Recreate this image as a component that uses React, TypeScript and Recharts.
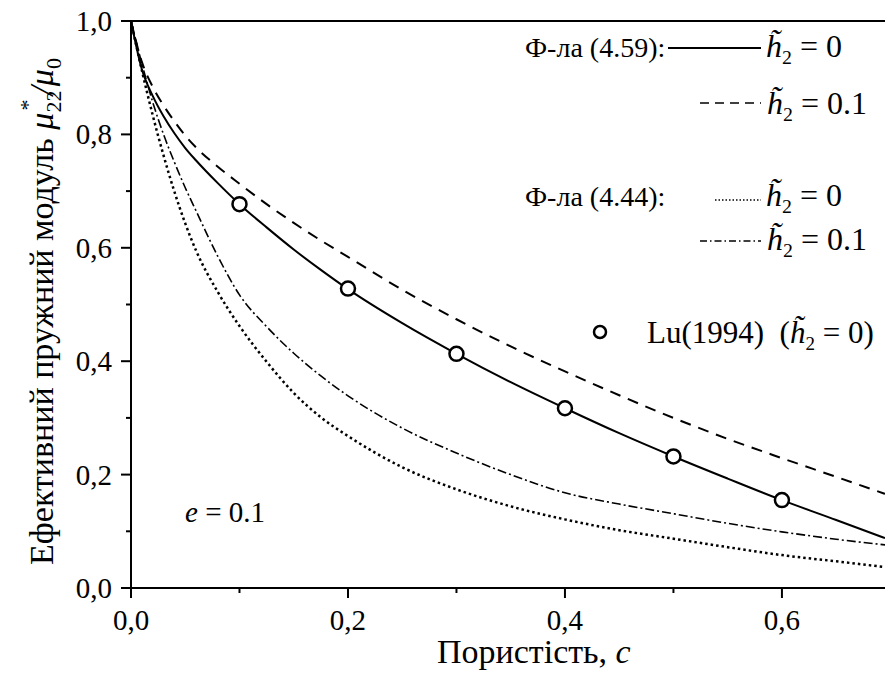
import React from 'react';
import { ComposedChart, Line, Scatter, XAxis, YAxis, ReferenceLine } from 'recharts';

// porosity grid c
const cGrid = [0, 0.01, 0.02, 0.03, 0.04, 0.05, 0.06, 0.08, 0.1, 0.125, 0.15, 0.175, 0.2, 0.25, 0.3, 0.35, 0.4, 0.45, 0.5, 0.55, 0.6, 0.65, 0.695];
// Ф-ла (4.59), h2 = 0 (solid)
const f459h0 = [1, 0.915, 0.868, 0.832, 0.802, 0.776, 0.754, 0.714, 0.677, 0.636, 0.597, 0.561, 0.527, 0.467, 0.413, 0.363, 0.317, 0.273, 0.232, 0.193, 0.155, 0.12, 0.088];
// Ф-ла (4.59), h2 = 0.1 (dashed)
const f459h01 = [1, 0.928, 0.884, 0.851, 0.823, 0.798, 0.777, 0.743, 0.713, 0.677, 0.644, 0.613, 0.584, 0.526, 0.474, 0.426, 0.382, 0.34, 0.3, 0.263, 0.229, 0.196, 0.166];
// Ф-ла (4.44), h2 = 0 (dotted)
const f444h0 = [1, 0.913, 0.834, 0.763, 0.699, 0.643, 0.595, 0.522, 0.462, 0.399, 0.344, 0.301, 0.268, 0.213, 0.174, 0.144, 0.121, 0.102, 0.087, 0.072, 0.058, 0.047, 0.037];
// Ф-ла (4.44), h2 = 0.1 (dash-dot)
const f444h01 = [1, 0.925, 0.857, 0.8, 0.751, 0.706, 0.665, 0.585, 0.517, 0.461, 0.414, 0.374, 0.339, 0.282, 0.238, 0.2, 0.168, 0.148, 0.131, 0.114, 0.099, 0.086, 0.076];
// Lu (1994) points
const luC = [0.1, 0.2, 0.3, 0.4, 0.5, 0.6];
const luV = [0.677, 0.528, 0.413, 0.317, 0.232, 0.155];

const xTicks = [0, 0.1, 0.2, 0.3, 0.4, 0.5, 0.6];
const yTicks = [0, 0.1, 0.2, 0.3, 0.4, 0.5, 0.6, 0.7, 0.8, 0.9, 1.0];

const rows = cGrid.map((c, i) => ({ c, a: f459h0[i], b: f459h01[i], d: f444h0[i], e: f444h01[i] }));
const luData = luC.map((c, i) => ({ c, v: luV[i] }));

const FONT = '"Liberation Serif", "Times New Roman", serif';
const fmt = (v: number) => v.toFixed(1).replace('.', ',');
const isMajor = (v: number) => Math.round(v * 10) % 2 === 0;

const XTick = (props: any) => {
  const { x, y, payload } = props;
  const v = payload.value as number;
  const major = isMajor(v);
  return (
    <g>
      <line x1={x} x2={x} y1={y} y2={y + (major ? 10 : 5)} stroke="#000" strokeWidth={2} />
      {major && (
        <text x={x} y={y + 42} textAnchor="middle" fontSize={29} fontFamily={FONT} fill="#000">{fmt(v)}</text>
      )}
    </g>
  );
};

const YTick = (props: any) => {
  const { x, y, payload } = props;
  const v = payload.value as number;
  const major = isMajor(v);
  return (
    <g>
      <line x1={x} x2={x - (major ? 10 : 5)} y1={y} y2={y} stroke="#000" strokeWidth={2} />
      {major && (
        <text x={x - 19} y={y + 10} textAnchor="end" fontSize={29} fontFamily={FONT} fill="#000">{fmt(v)}</text>
      )}
    </g>
  );
};

const HLabel = ({ x, y, rest, size = 32 }: { x: number; y: number; rest: string; size?: number }) => (
  <text x={x} y={y} fontSize={size} fontFamily={FONT} fill="#000">
    <tspan fontStyle="italic">{'h\u0303'}</tspan>
    <tspan dy={7} fontSize={size * 0.62}>2</tspan>
    <tspan dy={-7}>{rest}</tspan>
  </text>
);

export default function App() {
  return (
    <div style={{ position: 'absolute', left: 0, top: 0, width: 885, height: 682, overflow: 'hidden', background: '#fff' }}>
      <ComposedChart width={885} height={682} data={rows} margin={{ top: 21, right: 0, bottom: 0, left: 0 }}>
        <XAxis
          type="number"
          dataKey="c"
          domain={[0, 0.695]}
          ticks={xTicks}
          interval={0}
          height={94}
          tickSize={0}
          tickMargin={0}
          tickLine={false}
          axisLine={{ stroke: '#000', strokeWidth: 2 }}
          tick={(p: any) => <XTick {...p} />}
        />
        <YAxis
          type="number"
          domain={[0, 1]}
          ticks={yTicks}
          interval={0}
          width={131}
          tickSize={0}
          tickMargin={0}
          tickLine={false}
          axisLine={{ stroke: '#000', strokeWidth: 2 }}
          tick={(p: any) => <YTick {...p} />}
        />
        <ReferenceLine y={1} stroke="#000" strokeWidth={2} />
        <Line type="monotone" dataKey="b" stroke="#000" strokeWidth={2} strokeDasharray="11 8" dot={false} isAnimationActive={false} />
        <Line type="monotone" dataKey="d" stroke="#000" strokeWidth={2.5} strokeDasharray="2.5 3" dot={false} isAnimationActive={false} />
        <Line type="monotone" dataKey="e" stroke="#000" strokeWidth={1.6} strokeDasharray="9 3 2 3" dot={false} isAnimationActive={false} />
        <Line type="monotone" dataKey="a" stroke="#000" strokeWidth={2} dot={false} isAnimationActive={false} />
        <Scatter
          data={luData}
          dataKey="v"
          isAnimationActive={false}
          shape={(p: any) => <circle cx={p.cx} cy={p.cy} r={7} fill="#fff" stroke="#000" strokeWidth={2.5} />}
        />
      </ComposedChart>
      <svg width={885} height={682} style={{ position: 'absolute', left: 0, top: 0, pointerEvents: 'none' }}>
        {/* legend */}
        <text x={525} y={57} fontSize={28} fontFamily={FONT} fill="#000">Ф-ла (4.59):</text>
        <line x1={668} x2={761} y1={48} y2={48} stroke="#000" strokeWidth={2} />
        <HLabel x={766} y={57} rest=" = 0" />
        <line x1={700} x2={761} y1={103} y2={103} stroke="#000" strokeWidth={1.6} strokeDasharray="9 6" />
        <HLabel x={767} y={114} rest=" = 0.1" />
        <text x={525} y={206} fontSize={28} fontFamily={FONT} fill="#000">Ф-ла (4.44):</text>
        <line x1={715} x2={761} y1={200} y2={200} stroke="#000" strokeWidth={1.6} strokeDasharray="1.5 2" />
        <HLabel x={766} y={206} rest=" = 0" />
        <line x1={700} x2={761} y1={241} y2={241} stroke="#000" strokeWidth={1.3} strokeDasharray="7 3 1.5 3" />
        <HLabel x={767} y={250} rest=" = 0.1" />
        <circle cx={600} cy={332} r={6} fill="#fff" stroke="#000" strokeWidth={2.5} />
        <text x={647} y={343} fontSize={31} fontFamily={FONT} fill="#000">
          {'Lu(1994)\u00A0\u00A0('}
          <tspan fontStyle="italic">{'h\u0303'}</tspan>
          <tspan dy={7} fontSize={19}>2</tspan>
          <tspan dy={-7}>{' = 0)'}</tspan>
        </text>
        {/* annotation */}
        <text x={185} y={522} fontSize={29} fontFamily={FONT} fill="#000">
          <tspan fontStyle="italic">e</tspan> = 0.1
        </text>
        {/* axis titles */}
        <text x={437} y={663} fontSize={34} fontFamily={FONT} fill="#000">
          Пористість, <tspan fontStyle="italic">c</tspan>
        </text>
        <text transform="translate(53,565) rotate(-90)" fontSize={34} fontFamily={FONT} fill="#000">
          Ефективний пружний модуль{' '}
          <tspan fontStyle="italic">μ</tspan>
          <tspan fontSize={22} dy={8}>22</tspan>
          <tspan fontSize={22} dx={-20} dy={-26}>*</tspan>
          <tspan dx={4} dy={18} fontStyle="italic">/</tspan>
          <tspan fontStyle="italic">μ</tspan>
          <tspan fontSize={22} dy={8}>0</tspan>
        </text>
      </svg>
    </div>
  );
}
